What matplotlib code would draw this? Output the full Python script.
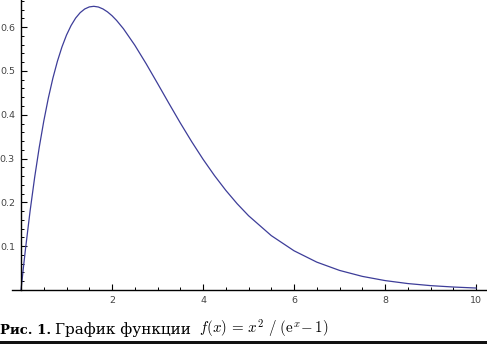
import matplotlib
matplotlib.use("Agg")
import matplotlib.pyplot as plt
from matplotlib.ticker import MultipleLocator
from matplotlib.patches import Rectangle

# Точки кривой
x_vals = [0, 0.05, 0.1, 0.2, 0.3, 0.4, 0.5, 0.6, 0.7, 0.8, 0.9, 1.0, 1.1, 1.2,
          1.3, 1.4, 1.5, 1.6, 1.7, 1.8, 1.9, 2.0, 2.1, 2.25, 2.5, 2.75, 3.0,
          3.25, 3.5, 3.75, 4.0, 4.25, 4.5, 4.75, 5.0, 5.5, 6.0, 6.5, 7.0, 7.5,
          8.0, 8.5, 9.0, 9.5, 10.0]
y_vals = [0, 0.0488, 0.0951, 0.1807, 0.2572, 0.3253, 0.3854, 0.4379, 0.4834,
          0.5222, 0.5549, 0.5820, 0.6037, 0.6207, 0.6331, 0.6415, 0.6462,
          0.6476, 0.6460, 0.6416, 0.6349, 0.6261, 0.6154, 0.5965, 0.5589,
          0.5165, 0.4716, 0.4261, 0.3814, 0.3387, 0.2985, 0.2614, 0.2275,
          0.1969, 0.1696, 0.1241, 0.0895, 0.0636, 0.0447, 0.0311, 0.0215,
          0.0147, 0.0100, 0.0068, 0.0045]

x_ticks = [2, 4, 6, 8, 10]
y_ticks = [0.1, 0.2, 0.3, 0.4, 0.5, 0.6]

plt.rcParams['mathtext.fontset'] = 'cm'

fig = plt.figure(figsize=(4.87, 3.44), dpi=100)
ax = fig.add_axes([12 / 487, 54 / 344, 475 / 487, 290 / 344])

ax.plot(x_vals, y_vals, color="#3d3d99", lw=0.9)

ax.set_xlim(-0.198, 10.24)
ax.set_ylim(0, 0.662)

for s in ["top", "right"]:
    ax.spines[s].set_visible(False)
ax.spines["left"].set_position(("data", 0))
ax.spines["left"].set_linewidth(1.0)
ax.spines["bottom"].set_linewidth(1.0)

ax.set_xticks(x_ticks)
ax.set_yticks(y_ticks)
ax.set_xticklabels([str(t) for t in x_ticks])
ax.set_yticklabels([str(t) for t in y_ticks])
ax.xaxis.set_minor_locator(MultipleLocator(0.5))
ax.yaxis.set_minor_locator(MultipleLocator(0.02))
ax.tick_params(which="major", direction="in", length=4.3, width=0.8,
               labelsize=6.8, labelcolor="#444444", pad=4.4)
ax.tick_params(which="minor", direction="in", length=2.3, width=0.7)

# Подпись (все части на одной базовой линии)
base_y = 1 - 334 / 344
t1 = fig.text(0.0, base_y, "Рис. 1.", fontsize=9.5,
              fontweight="bold", family="DejaVu Serif", va="baseline")
t2 = ax.annotate("График функции", xy=(1, base_y),
                 xycoords=(t1, "figure fraction"), xytext=(2.5, 0),
                 textcoords="offset points", fontsize=11,
                 family="DejaVu Serif", va="baseline", annotation_clip=False)
ax.annotate(r"$f(x)\,=\,x^2\ /\ (\mathrm{e}^x\!-1)$", xy=(1, base_y),
            xycoords=(t2, "figure fraction"), xytext=(6, 0),
            textcoords="offset points", fontsize=10.8,
            va="baseline", annotation_clip=False)

fig.add_artist(Rectangle((0, 0), 1, 3 / 344, transform=fig.transFigure,
                         color="#111111", lw=0))

fig.savefig("out.png", dpi=100)
